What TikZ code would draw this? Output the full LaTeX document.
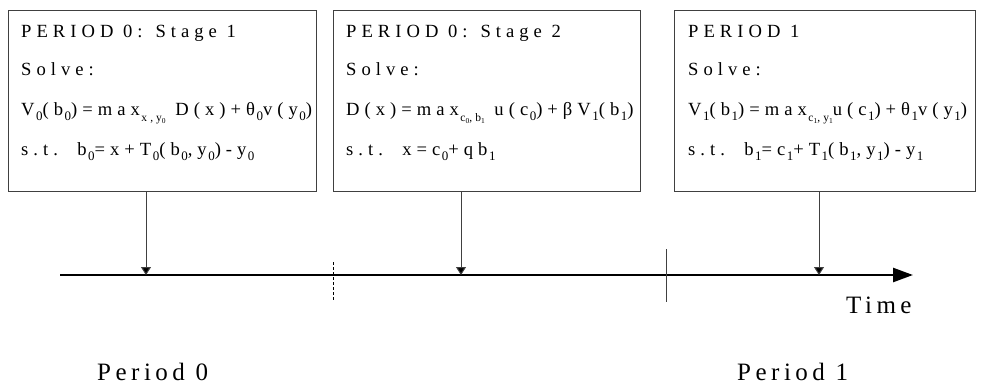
\documentclass[tikz,border=0pt]{standalone}
\usepackage{fontspec}
\setmainfont{Liberation Serif}[LetterSpace=18]
\newfontfamily\boxfont{Liberation Serif}[LetterSpace=27]
\usetikzlibrary{arrows.meta}
\newcommand\lo[1]{\kern0.08em\raisebox{-0.28em}{\fontsize{13}{13}\selectfont #1}}
\newcommand\tinylo[1]{\raisebox{-0.15em}{\fontsize{7.5}{7.5}\selectfont #1}}
\newcommand\mlo[1]{\kern0.08em\raisebox{-0.35em}{\fontsize{11.5}{11.5}\selectfont #1}}
\begin{document}
\begin{tikzpicture}[x=1pt,y=-1pt,
  box/.style={draw=black!75,line width=1pt,rectangle,inner sep=0pt,anchor=north west},
  txt/.style={anchor=base west,inner sep=0pt,font=\boxfont\fontsize{18.6}{20}\selectfont},
  lbl/.style={anchor=base west,inner sep=0pt,font=\fontsize{25}{27}\selectfont},
  conn/.style={draw=black!75,line width=1pt,-{Triangle[length=8pt,width=10pt,fill=black]}},
  axisline/.style={line width=2.5pt,-{Triangle[length=20pt,width=14pt]}}]
\useasboundingbox (0,0) rectangle (982,386);
% boxes
\node[box,minimum width=308pt,minimum height=181pt] (b1) at (8,10) {};
\node[box,minimum width=307pt,minimum height=181pt] (b2) at (333,10) {};
\node[box,minimum width=301pt,minimum height=181pt] (b3) at (674,10) {};
% box 1 text
\node[txt] (t11) at ([xshift=13pt,yshift=-27pt]b1.north west) {PERIOD 0: Stage 1};
\node[txt] (t12) at ([xshift=13pt,yshift=-65pt]b1.north west) {Solve:};
\node[txt] (t13) at ([xshift=13pt,yshift=-105pt]b1.north west) {V\lo{0}(b\lo{0})=max\mlo{x,y\tinylo{0}} D(x)+θ\lo{0}v(y\lo{0})};
\node[txt] (t14) at ([xshift=13pt,yshift=-145pt]b1.north west) {s.t.\ \ b\lo{0}=x+T\lo{0}(b\lo{0},y\lo{0})-y\lo{0}};
% box 2 text
\node[txt] (t21) at ([xshift=13pt,yshift=-27pt]b2.north west) {PERIOD 0: Stage 2};
\node[txt] (t22) at ([xshift=13pt,yshift=-65pt]b2.north west) {Solve:};
\node[txt] (t23) at ([xshift=13pt,yshift=-105pt]b2.north west) {D(x)=max\mlo{c\tinylo{0},b\tinylo{1}} u(c\lo{0})+βV\lo{1}(b\lo{1})};
\node[txt] (t24) at ([xshift=13pt,yshift=-145pt]b2.north west) {s.t.\ \ x=c\lo{0}+qb\lo{1}};
% box 3 text
\node[txt] (t31) at ([xshift=14pt,yshift=-27pt]b3.north west) {PERIOD 1};
\node[txt] (t32) at ([xshift=14pt,yshift=-65pt]b3.north west) {Solve:};
\node[txt] (t33) at ([xshift=14pt,yshift=-105pt]b3.north west) {V\lo{1}(b\lo{1})=max\mlo{c\tinylo{1},y\tinylo{1}}u(c\lo{1})+θ\lo{1}v(y\lo{1})};
\node[txt] (t34) at ([xshift=14pt,yshift=-145pt]b3.north west) {s.t.\ \ b\lo{1}=c\lo{1}+T\lo{1}(b\lo{1},y\lo{1})-y\lo{1}};
% axis
\coordinate (ax0) at (60,275);
\coordinate (ax1) at (913,275);
\draw[axisline] (ax0) -- (ax1);
\coordinate (p1) at (146,275);
\coordinate (p2) at (461,275);
\coordinate (p3) at (819,275);
\draw[conn] (b1.south -| p1) -- (p1);
\draw[conn] (b2.south -| p2) -- (p2);
\draw[conn] (b3.south -| p3) -- (p3);
% ticks
\coordinate (d0) at (333,262); \coordinate (d1) at (333,300);
\draw[line width=0.9pt,dash pattern=on 3pt off 2pt] (d0) -- (d1);
\coordinate (s0) at (666,249); \coordinate (s1) at (666,302);
\draw[line width=1pt,draw=black!75] (s0) -- (s1);
% labels
\node[lbl] (time) at (846,313) {Time};
\node[lbl] (per0) at (97,380) {Period 0};
\node[lbl] (per1) at (737,380) {Period 1};
\end{tikzpicture}
\end{document}
